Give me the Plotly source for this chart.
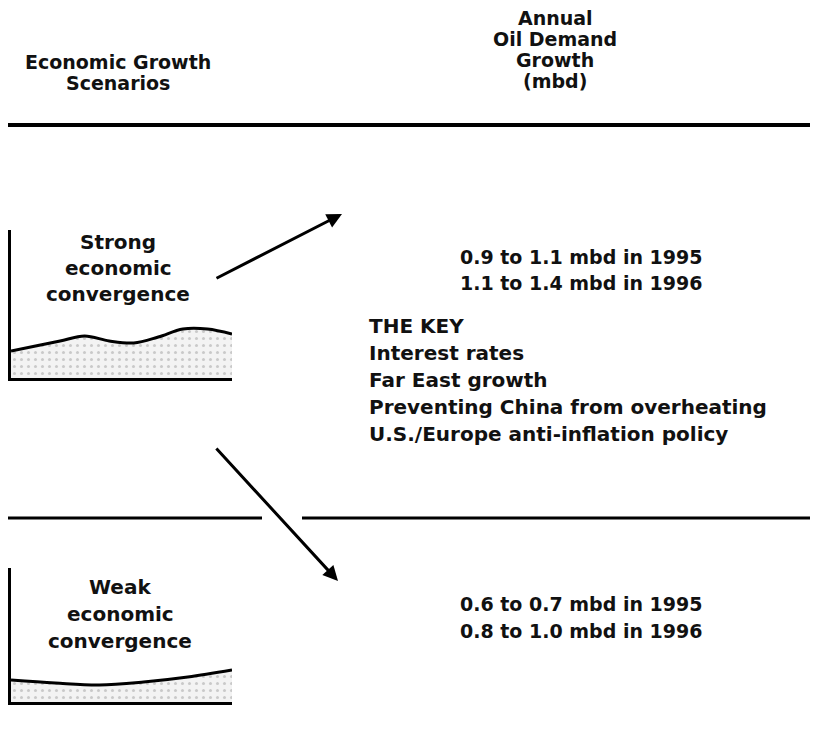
import plotly.graph_objects as go

# the page body adds an 8px margin; positions below are window pixels
W, H = 818, 729
OFF = 8

# mini curves (height above baseline, arbitrary units)
strong_t = [0, 1, 2, 3, 4, 5, 6, 7, 8, 9]
strong_vals = [27, 32, 37, 42, 37, 35, 41, 49, 49, 44]
weak_t = [0, 1, 2, 3, 4, 5]
weak_vals = [22, 19, 17, 20, 25, 32]

header_left = ["Economic Growth", "Scenarios"]
header_right = ["Annual", "Oil Demand", "Growth", "(mbd)"]
strong_label = ["Strong", "economic", "convergence"]
weak_label = ["Weak", "economic", "convergence"]
strong_demand = ["0.9 to 1.1 mbd in 1995", "1.1 to 1.4 mbd in 1996"]
weak_demand = ["0.6 to 0.7 mbd in 1995", "0.8 to 1.0 mbd in 1996"]
key_lines = ["THE KEY", "Interest rates", "Far East growth",
             "Preventing China from overheating", "U.S./Europe anti-inflation policy"]

FONT = "DejaVu Sans"


def px(x, y):
    return (x - OFF) / W, 1 - (y - OFF) / H


fig = go.Figure()

# stippled area under each curve
patt = dict(shape=".", fgcolor="#a0a0a0", bgcolor="#f3f3f3", size=7, solidity=0.15)
fig.add_trace(go.Scatter(x=strong_t, y=strong_vals, mode="lines", line=dict(color="black", width=3, shape="spline"),
                         fill="tozeroy", fillcolor="#f3f3f3", fillpattern=patt, xaxis="x2", yaxis="y2",
                         showlegend=False, hoverinfo="skip"))
fig.add_trace(go.Scatter(x=weak_t, y=weak_vals, mode="lines", line=dict(color="black", width=3, shape="spline"),
                         fill="tozeroy", fillcolor="#f3f3f3", fillpattern=patt, xaxis="x3", yaxis="y3",
                         showlegend=False, hoverinfo="skip"))

mini_axis = dict(showgrid=False, zeroline=False, showticklabels=False, ticks="",
                 showline=True, linecolor="black", linewidth=3)

x0, _ = px(11, 0)
x1, _ = px(232, 0)
_, sb = px(0, 378)
_, st = px(0, 230)
_, wb = px(0, 702)
_, wt = px(0, 568)

annotations = []


def text(x, y, s, size=20, anchor="center"):
    xx, yy = px(x, y)
    annotations.append(dict(x=xx, y=yy, xref="paper", yref="paper", text="<b>" + s + "</b>",
                            showarrow=False, xanchor=anchor, yanchor="middle",
                            font=dict(family=FONT, size=size, color="#111")))


for i, s in enumerate(header_left):
    text(118, 62 + i * 21, s, size=19)
for i, s in enumerate(header_right):
    text(555, 18 + i * 21, s, size=19)
for i, s in enumerate(strong_label):
    text(118, 242 + i * 26, s)
for i, s in enumerate(weak_label):
    text(120, 587 + i * 27, s)
for i, s in enumerate(strong_demand):
    text(581, 257 + i * 26, s, size=19)
for i, s in enumerate(weak_demand):
    text(581, 604 + i * 27, s, size=19)
for i, s in enumerate(key_lines):
    text(367, 326 + i * 27, s, anchor="left")

# arrows
for (tx, ty), (hx, hy) in [((215, 279), (342, 214)), ((215, 447), (338, 581))]:
    hxx, hyy = px(hx, hy)
    annotations.append(dict(x=hxx, y=hyy, xref="paper", yref="paper", ax=tx - hx, ay=ty - hy,
                            showarrow=True, arrowhead=2, arrowsize=1, arrowwidth=3, arrowcolor="black",
                            text=""))

shapes = []
_, yl = px(0, 125)
shapes.append(dict(type="line", xref="paper", yref="paper", x0=-0.02, x1=1.02, y0=yl, y1=yl,
                   line=dict(color="black", width=4)))
_, ym = px(0, 518)
for a, b in [(0, 262), (302, 830)]:
    shapes.append(dict(type="line", xref="paper", yref="paper", x0=px(a, 0)[0], x1=px(b, 0)[0], y0=ym, y1=ym,
                       line=dict(color="black", width=3)))

fig.update_layout(
    width=W, height=H,
    margin=dict(l=0, r=0, t=0, b=0),
    paper_bgcolor="white", plot_bgcolor="white",
    xaxis=dict(visible=False), yaxis=dict(visible=False),
    xaxis2=dict(domain=[x0, x1], anchor="y2", range=[0, 9], **mini_axis),
    yaxis2=dict(domain=[sb, st], anchor="x2", range=[0, 148], **mini_axis),
    xaxis3=dict(domain=[x0, x1], anchor="y3", range=[0, 5], **mini_axis),
    yaxis3=dict(domain=[wb, wt], anchor="x3", range=[0, 134], **mini_axis),
    annotations=annotations,
    shapes=shapes,
    showlegend=False,
)

fig.write_html("out.html")
